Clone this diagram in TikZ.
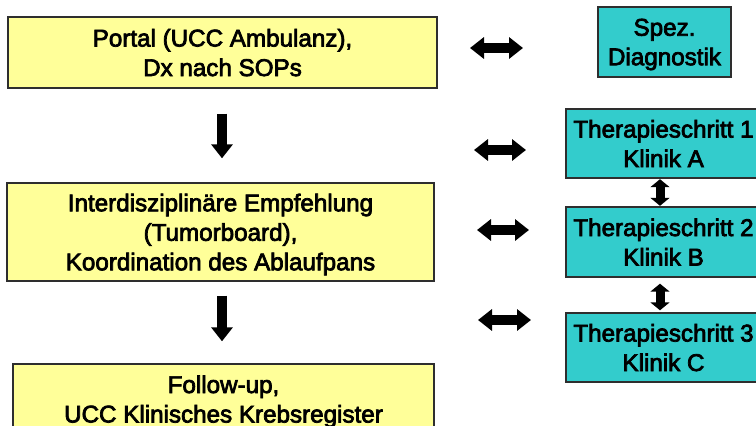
\documentclass[tikz,border=0pt]{standalone}
\usepackage{fontspec}
\setmainfont{Liberation Sans}
\font\boxfnt="Liberation Sans:embolden=3" at 24.2pt
\usetikzlibrary{arrows.meta}
\definecolor{boxyellow}{HTML}{FFFF99}
\definecolor{boxteal}{HTML}{33CCCC}
\definecolor{boxline}{HTML}{2E2E2E}
\begin{document}
\begin{tikzpicture}[x=1pt,y=-1pt,
  box/.style={draw=boxline, line width=1.4pt, inner sep=0pt, align=center,
    text depth=0pt, font=\fontsize{24.2}{29.5}\selectfont\boxfnt},
  ybox/.style={box, fill=boxyellow},
  tbox/.style={box, fill=boxteal},
  blockarrow/.style={line width=10pt,
    {Triangle[length=14pt,width=21pt]}-{Triangle[length=14pt,width=21pt]}},
  downarrow/.style={line width=10pt, -{Triangle[length=14pt,width=21pt]}},
  vblock/.style={line width=9pt,
    {Triangle[length=8pt,width=19pt]}-{Triangle[length=8pt,width=19pt]}}]
\useasboundingbox (0,0) rectangle (756,426);
\clip (0,0) rectangle (756,426);

% left column
\node[ybox, minimum width=429pt, minimum height=71pt] (p1) at (222.5,52.5)
  {Portal (UCC Ambulanz),\\Dx nach SOPs};
\node[ybox, minimum width=427pt, minimum height=98pt] (p2) at (220.5,232)
  {Interdisziplinäre Empfehlung\\(Tumorboard),\\Koordination des Ablaufpans};
\node[ybox, minimum width=421pt, minimum height=70pt] (p3) at (223.5,399)
  {Follow-up,\\UCC Klinisches Krebsregister};

% right column
\node[tbox, minimum width=133pt, minimum height=70pt] (sd) at (664.5,42)
  {Spez.\\Diagnostik};
\node[tbox, minimum width=195pt, minimum height=69pt] (t1) at (663.5,143.5)
  {Therapieschritt 1\\Klinik A};
\node[tbox, minimum width=195pt, minimum height=70pt] (t2) at (663.5,242)
  {Therapieschritt 2\\Klinik B};
\node[tbox, minimum width=195pt, minimum height=69pt] (t3) at (663.5,347.5)
  {Therapieschritt 3\\Klinik C};

% down arrows
\draw[downarrow, shorten <=25pt, shorten >=24pt]
  ([xshift=-0.5pt]p1.south) -- ([xshift=-0.5pt]p1.south |- p2.north);
\draw[downarrow, shorten <=14pt, shorten >=22pt]
  ([xshift=1.5pt]p2.south) -- ([xshift=1.5pt]p2.south |- p3.north);

% vertical double arrows
\draw[vblock, shorten <=0.5pt, shorten >=0.5pt]
  ([xshift=-3.5pt]t1.south) -- ([xshift=-3.5pt]t2.north);
\draw[vblock, shorten <=6pt, shorten >=2pt]
  ([xshift=-3.5pt]t2.south) -- ([xshift=-3.5pt]t3.north);

% horizontal double arrows
\coordinate (h1a) at (470,48);  \coordinate (h1b) at (523,48);
\coordinate (h2a) at (474,150); \coordinate (h2b) at (526,150);
\coordinate (h3a) at (477,230); \coordinate (h3b) at (529,230);
\coordinate (h4a) at (478,320); \coordinate (h4b) at (531,320);
\draw[blockarrow] (h1a) -- (h1b);
\draw[blockarrow] (h2a) -- (h2b);
\draw[blockarrow] (h3a) -- (h3b);
\draw[blockarrow] (h4a) -- (h4b);
\end{tikzpicture}
\end{document}
